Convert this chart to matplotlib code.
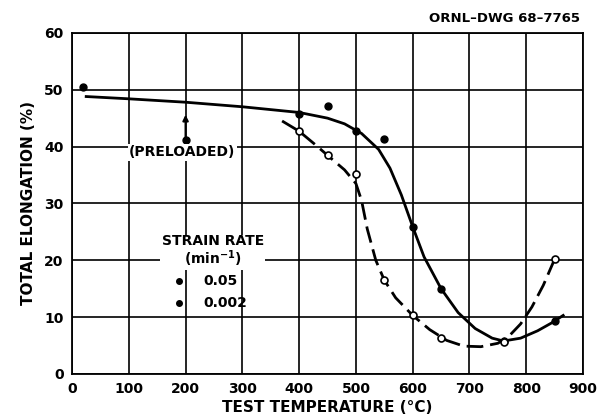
import numpy as np
import matplotlib
matplotlib.use("Agg")
import matplotlib.pyplot as plt

# measured points, strain rate 0.05 /min (solid)
temp_fast = [20, 400, 450, 500, 550, 600, 650, 760, 850]
elong_fast = [50.4, 45.8, 47.2, 42.8, 41.4, 25.9, 15.0, 5.8, 9.3]

# measured points, strain rate 0.002 /min (dashed)
temp_slow = [400, 450, 500, 550, 600, 650, 760, 850]
elong_slow = [42.7, 38.6, 35.2, 16.5, 10.3, 6.3, 5.6, 20.2]

# preloaded specimen
temp_pre = [200]
elong_pre = [41.2]

# faired curves
curve_fast_t = [25, 100, 200, 300, 400, 450, 480, 510, 540, 560, 580, 600, 620,
                650, 680, 710, 740, 760, 790, 820, 845, 865]
curve_fast_e = [48.8, 48.4, 47.8, 47.0, 46.0, 45.0, 44.0, 42.3, 39.5, 36.2, 31.5,
                25.9, 20.6, 15.0, 10.8, 8.0, 6.3, 5.8, 6.3, 7.6, 9.0, 10.3]
curve_slow_t = [370, 400, 430, 460, 480, 500, 510, 520, 535, 550, 570, 600, 630,
                660, 690, 720, 750, 770, 790, 810, 830, 850]
curve_slow_e = [44.5, 42.7, 40.2, 37.6, 35.9, 33.5, 30.5, 25.5, 20.0, 16.5, 13.4,
                10.3, 7.8, 5.9, 4.9, 4.8, 5.4, 6.7, 8.8, 11.8, 15.6, 20.2]

xticks = [0, 100, 200, 300, 400, 500, 600, 700, 800, 900]
yticks = [0, 10, 20, 30, 40, 50, 60]

plt.rcParams['font.family'] = ['DejaVu Sans']
plt.rcParams['font.weight'] = 'bold'

fig = plt.figure(figsize=(5.98, 4.16), dpi=100)
ax = fig.add_axes([0.1204, 0.101, 0.8546, 0.820])

ax.set_xlim(0, 900)
ax.set_ylim(0, 60)
ax.set_xticks(xticks)
ax.set_yticks(yticks)
ax.tick_params(length=0, labelsize=10, pad=6)
for lab in ax.get_xticklabels() + ax.get_yticklabels():
    lab.set_fontweight('bold')
ax.grid(color='black', linewidth=1.2)
ax.set_axisbelow(True)
for s in ax.spines.values():
    s.set_linewidth(1.3)

ax.plot(curve_fast_t, curve_fast_e, color='black', lw=2.0, zorder=3)
ax.plot(curve_slow_t, curve_slow_e, color='black', lw=2.0, ls=(0, (6, 2.5)), zorder=3)

ax.plot(temp_fast, elong_fast, 'o', color='black', ms=5, zorder=4)
ax.plot(temp_slow, elong_slow, 'o', mfc='white', mec='black', mew=1.2, ms=5, zorder=4)
ax.plot(temp_pre, elong_pre, 'o', color='black', ms=5, zorder=4)

# arrow from the preloaded point
ax.annotate('', xy=(200, 45.6), xytext=(200, 41.4),
            arrowprops=dict(arrowstyle='-|>', color='black', lw=1.5,
                            mutation_scale=8, shrinkA=0, shrinkB=0), zorder=6)
ax.text(194, 39.0, '(PRELOADED)', ha='center', va='center', fontsize=10,
        fontweight='bold', bbox=dict(facecolor='white', edgecolor='none', pad=1), zorder=5)

# in-plot key
ax.text(248, 21.5, 'STRAIN RATE\n(min$^{-1}$)', ha='center', va='center', fontsize=10,
        fontweight='bold', linespacing=1.0, multialignment='center',
        bbox=dict(facecolor='white', edgecolor='none', pad=1), zorder=5)
ax.plot([188], [16.4], 'o', color='black', ms=4, zorder=6)
ax.text(232, 16.4, '0.05', ha='left', va='center', fontsize=10, fontweight='bold', zorder=6)
ax.plot([188], [12.4], 'o', color='black', ms=4, zorder=6)
ax.text(232, 12.4, '0.002', ha='left', va='center', fontsize=10, fontweight='bold', zorder=6)

ax.set_xlabel('TEST TEMPERATURE (°C)', fontsize=11, fontweight='bold', labelpad=3)
ax.set_ylabel('TOTAL ELONGATION (%)', fontsize=11, fontweight='bold', labelpad=6)
fig.text(0.97, 0.955, 'ORNL–DWG 68–7765', ha='right', va='center', fontsize=9.5,
         fontweight='bold')

fig.savefig('out.png', dpi=100)
